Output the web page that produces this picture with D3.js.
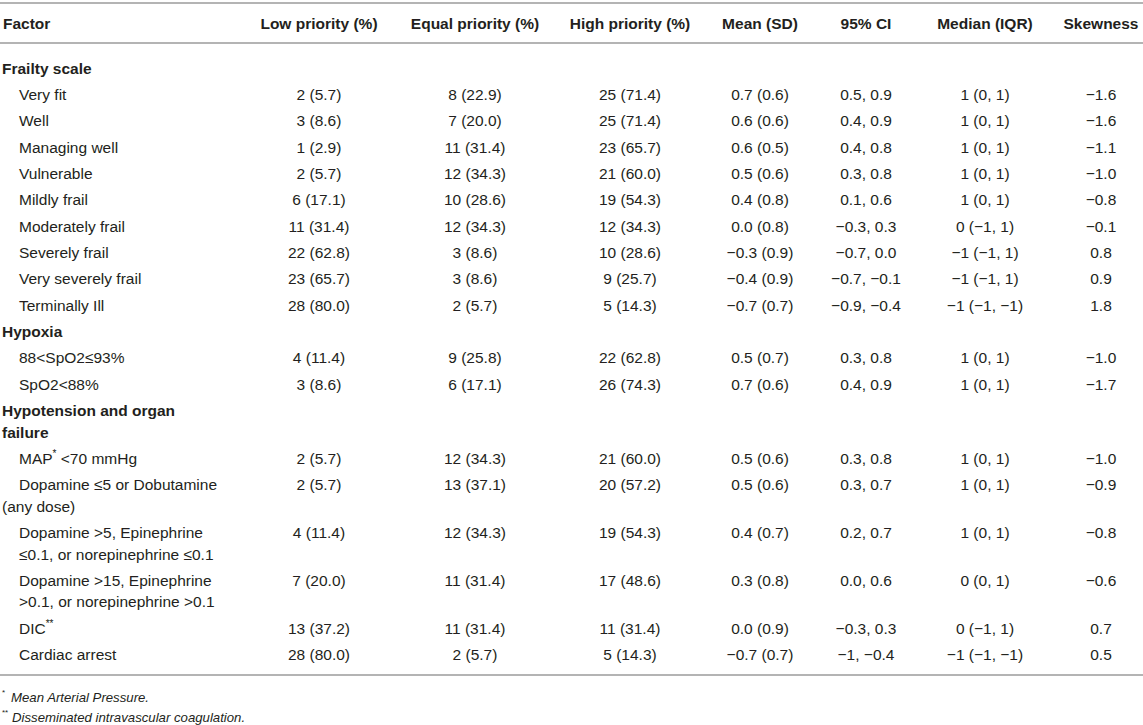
<!DOCTYPE html>
<html>
<head>
<meta charset="utf-8">
<script src="https://cdn.jsdelivr.net/npm/d3@7"></script>
<style>
  html, body { margin: 0; padding: 0; background: #fff; }
  svg { display: block; }
  text { font-family: "Liberation Sans", Arial, Helvetica, sans-serif; fill: #231f20; }
</style>
</head>
<body>
<svg id="chart" width="1143" height="725"></svg>
<script>
// ---------------- data ----------------
const columns = ["Factor", "Low priority (%)", "Equal priority (%)", "High priority (%)", "Mean (SD)", "95% CI", "Median (IQR)", "Skewness"];

// row kinds: "section" = bold group heading, "item" = data row
const rowKinds = ["section","item","item","item","item","item","item","item","item","item",
                  "section","item","item",
                  "section","item","item","item","item","item","item"];

const factorLabels = [
  ["Frailty scale"],
  ["Very fit"], ["Well"], ["Managing well"], ["Vulnerable"], ["Mildly frail"],
  ["Moderately frail"], ["Severely frail"], ["Very severely frail"], ["Terminally Ill"],
  ["Hypoxia"],
  ["88<SpO2≤93%"], ["SpO2<88%"],
  ["Hypotension and organ", "failure"],
  ["MAP* <70 mmHg"],
  ["Dopamine ≤5 or Dobutamine", "(any dose)"],
  ["Dopamine >5, Epinephrine", "≤0.1, or norepinephrine ≤0.1"],
  ["Dopamine >15, Epinephrine", ">0.1, or norepinephrine >0.1"],
  ["DIC**"],
  ["Cardiac arrest"]
];
// continuation lines that start at the left margin rather than indented
const outdentedLines = ["(any dose)"];

const lowPriority = ["", "2 (5.7)", "3 (8.6)", "1 (2.9)", "2 (5.7)", "6 (17.1)", "11 (31.4)", "22 (62.8)", "23 (65.7)", "28 (80.0)",
  "", "4 (11.4)", "3 (8.6)",
  "", "2 (5.7)", "2 (5.7)", "4 (11.4)", "7 (20.0)", "13 (37.2)", "28 (80.0)"];
const equalPriority = ["", "8 (22.9)", "7 (20.0)", "11 (31.4)", "12 (34.3)", "10 (28.6)", "12 (34.3)", "3 (8.6)", "3 (8.6)", "2 (5.7)",
  "", "9 (25.8)", "6 (17.1)",
  "", "12 (34.3)", "13 (37.1)", "12 (34.3)", "11 (31.4)", "11 (31.4)", "2 (5.7)"];
const highPriority = ["", "25 (71.4)", "25 (71.4)", "23 (65.7)", "21 (60.0)", "19 (54.3)", "12 (34.3)", "10 (28.6)", "9 (25.7)", "5 (14.3)",
  "", "22 (62.8)", "26 (74.3)",
  "", "21 (60.0)", "20 (57.2)", "19 (54.3)", "17 (48.6)", "11 (31.4)", "5 (14.3)"];
const meanSD = ["", "0.7 (0.6)", "0.6 (0.6)", "0.6 (0.5)", "0.5 (0.6)", "0.4 (0.8)", "0.0 (0.8)", "−0.3 (0.9)", "−0.4 (0.9)", "−0.7 (0.7)",
  "", "0.5 (0.7)", "0.7 (0.6)",
  "", "0.5 (0.6)", "0.5 (0.6)", "0.4 (0.7)", "0.3 (0.8)", "0.0 (0.9)", "−0.7 (0.7)"];
const ci95 = ["", "0.5, 0.9", "0.4, 0.9", "0.4, 0.8", "0.3, 0.8", "0.1, 0.6", "−0.3, 0.3", "−0.7, 0.0", "−0.7, −0.1", "−0.9, −0.4",
  "", "0.3, 0.8", "0.4, 0.9",
  "", "0.3, 0.8", "0.3, 0.7", "0.2, 0.7", "0.0, 0.6", "−0.3, 0.3", "−1, −0.4"];
const medianIQR = ["", "1 (0, 1)", "1 (0, 1)", "1 (0, 1)", "1 (0, 1)", "1 (0, 1)", "0 (−1, 1)", "−1 (−1, 1)", "−1 (−1, 1)", "−1 (−1, −1)",
  "", "1 (0, 1)", "1 (0, 1)",
  "", "1 (0, 1)", "1 (0, 1)", "1 (0, 1)", "0 (0, 1)", "0 (−1, 1)", "−1 (−1, −1)"];
const skewness = ["", "−1.6", "−1.6", "−1.1", "−1.0", "−0.8", "−0.1", "0.8", "0.9", "1.8",
  "", "−1.0", "−1.7",
  "", "−1.0", "−0.9", "−0.8", "−0.6", "0.7", "0.5"];

const footnotes = [
  { mark: "*", text: "Mean Arterial Pressure." },
  { mark: "**", text: "Disseminated intravascular coagulation." }
];

// ---------------- layout ----------------
const W = 1143;
const svg = d3.select("#chart");
const valueCols = [lowPriority, equalPriority, highPriority, meanSD, ci95, medianIQR, skewness];

const xCol = d3.scaleOrdinal()
  .domain(columns)
  .range([3, 319, 475, 630, 760, 866, 985, 1101]);

const headerY = 23;
const firstRowY = 68;
const rowPitch = 26.35;
const lineGap = 21.5;
const indentX = 19;

// cumulative row positions (first-line centre)
const rowY = [];
{
  let y = firstRowY;
  factorLabels.forEach((lines, i) => {
    rowY.push(y);
    y += rowPitch + (lines.length - 1) * lineGap;
  });
}
const yRow = d3.scaleOrdinal().domain(d3.range(factorLabels.length)).range(rowY);

const fs = 15.5;

// rules
const ruleColor = "#b4b4b4";
[3, 43, 675].forEach(y => {
  svg.append("line").attr("x1", 0).attr("x2", W).attr("y1", y).attr("y2", y)
    .attr("stroke", ruleColor).attr("stroke-width", 2);
});

// header
svg.append("g").selectAll("text").data(columns).join("text")
  .attr("x", d => xCol(d))
  .attr("y", headerY)
  .attr("dominant-baseline", "central")
  .attr("text-anchor", (d, i) => i === 0 ? "start" : "middle")
  .attr("font-size", fs)
  .attr("font-weight", "bold")
  .text(d => d);

// factor labels
function addLabelText(sel, str) {
  // handle superscript asterisks
  const m = str.match(/^(.*?)(\*+)(.*)$/);
  if (!m) { sel.text(str); return; }
  sel.append("tspan").text(m[1]);
  sel.append("tspan").attr("font-size", fs * 0.65).attr("dy", -5).text(m[2]);
  sel.append("tspan").attr("dy", 5).text(m[3]);
}

const labelG = svg.append("g");
factorLabels.forEach((lines, i) => {
  const kind = rowKinds[i];
  lines.forEach((ln, j) => {
    const indented = kind === "item" && !outdentedLines.includes(ln);
    const t = labelG.append("text")
      .attr("x", xCol(columns[0]) + (indented ? indentX - 3 : -1))
      .attr("y", yRow(i) + j * lineGap)
      .attr("dominant-baseline", "central")
      .attr("font-size", fs)
      .attr("font-weight", kind === "section" ? "bold" : "normal");
    addLabelText(t, ln);
  });
});

// values
const valG = svg.append("g");
valueCols.forEach((arr, c) => {
  valG.append("g").selectAll("text").data(arr).join("text")
    .attr("x", xCol(columns[c + 1]))
    .attr("y", (d, i) => yRow(i))
    .attr("dominant-baseline", "central")
    .attr("text-anchor", "middle")
    .attr("font-size", fs)
    .text(d => d);
});

// footnotes
const fnY = [697, 717];
footnotes.forEach((f, i) => {
  const t = svg.append("text")
    .attr("x", 2)
    .attr("y", fnY[i])
    .attr("dominant-baseline", "central")
    .attr("font-size", 13.2)
    .attr("font-style", "italic");
  t.append("tspan").attr("font-size", 8).attr("dy", -5).attr("font-style", "normal").text(f.mark);
  t.append("tspan").attr("dy", 5).attr("x", i === 0 ? 11 : 12).text(f.text);
});
</script>
</body>
</html>
